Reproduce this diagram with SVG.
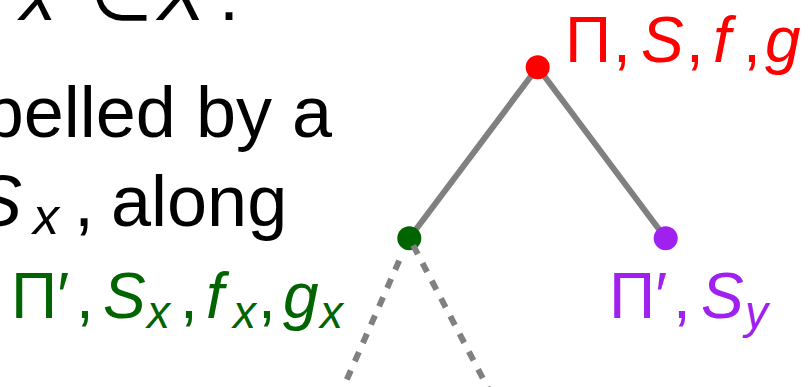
<svg xmlns="http://www.w3.org/2000/svg" width="811" height="387" viewBox="0 0 811 387">
<style>
.t{font-family:"Liberation Sans","DejaVu Sans",sans-serif;}
.it{font-style:italic;}
.main{font-size:72px;fill:#000;}
.lab{font-size:64px;}
.sub{font-size:46px;font-style:italic;}
.edge{stroke:#808080;stroke-width:6;fill:none;}
.dash{stroke:#808080;stroke-width:6;fill:none;stroke-dasharray:10 10;}
</style>
<rect width="811" height="387" fill="#fff"/>
<g id="text-body" class="t main">
<text y="20"><tspan x="20" class="it">x</tspan><tspan x="90">∈</tspan><tspan x="157" class="it">X</tspan><tspan x="219">.</tspan></text>
<text x="332" y="137" text-anchor="end">belled by a</text>
<text y="226"><tspan x="-26" class="it">S</tspan><tspan x="33" y="234" class="it" font-size="52">x</tspan><tspan x="74" y="226">,</tspan><tspan x="111">along</tspan></text>
</g>
<g id="connectors">
<line class="edge" x1="537.7" y1="67.3" x2="409.3" y2="238.3"/>
<line class="edge" x1="537.7" y1="67.3" x2="665.7" y2="238.3"/>
<line class="dash" x1="399.2" y1="260.6" x2="340" y2="395"/>
</g>
<g id="node-root">
<circle cx="537.7" cy="67.3" r="12" fill="#ff0000"/>
<text class="t lab" y="62" fill="#ff0000"><tspan x="565">Π</tspan><tspan x="613">,</tspan><tspan x="641" class="it">S</tspan><tspan x="686">,</tspan><tspan x="713" class="it">f</tspan><tspan x="743">,</tspan><tspan x="765" class="it">g</tspan></text>
</g>
<g id="node-left">
<circle cx="409.3" cy="238.3" r="12" fill="#006400"/>
<text class="t lab" y="318" fill="#006400"><tspan x="11">Π′</tspan><tspan x="76">,</tspan><tspan x="103" class="it">S</tspan><tspan x="147" y="328" class="sub">x</tspan><tspan x="180" y="318">,</tspan><tspan x="206" class="it">f</tspan><tspan x="233" y="328" class="sub">x</tspan><tspan x="258" y="318">,</tspan><tspan x="283" class="it">g</tspan><tspan x="320" y="328" class="sub">x</tspan></text>
</g>
<g id="node-right">
<circle cx="665.7" cy="238.3" r="12" fill="#a020f0"/>
<text class="t lab" y="318" fill="#a020f0"><tspan x="609">Π′</tspan><tspan x="673">,</tspan><tspan x="701" class="it">S</tspan><tspan x="745" y="328" class="sub">y</tspan></text>
</g>
<g id="connectors-dashed">
<line class="dash" x1="413.2" y1="245.3" x2="490" y2="392"/>
</g>
</svg>
